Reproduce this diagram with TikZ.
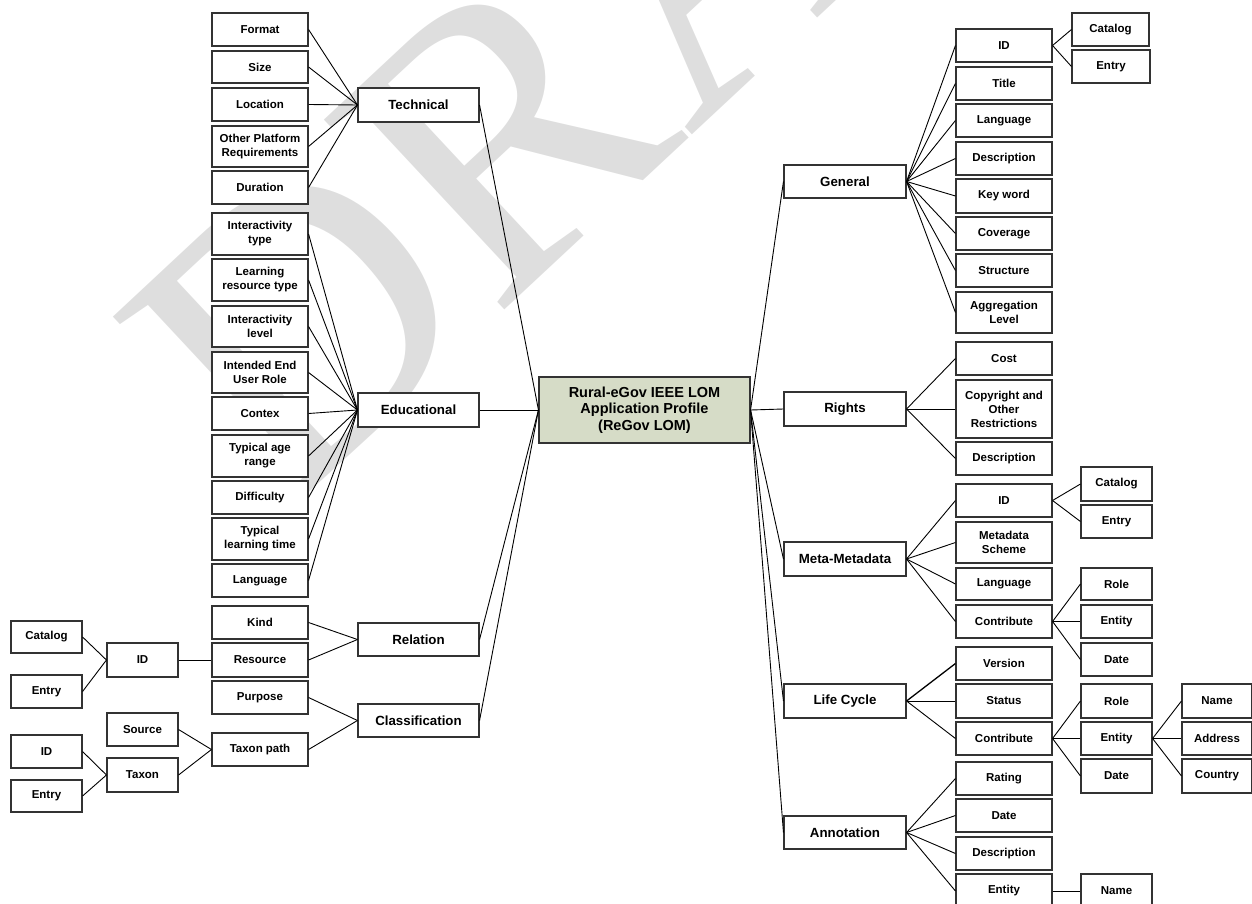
\documentclass[tikz,border=0pt]{standalone}
\usepackage{fontspec}
\setmainfont{Liberation Sans}
\newfontfamily\wmfont{Liberation Serif}
\definecolor{rootfill}{RGB}{214,220,199}
\definecolor{wmgray}{RGB}{222,222,222}
\tikzset{
  box/.style={draw=black!80, line width=1.1pt, fill=white, inner sep=0pt, align=center,
              font=\bfseries\fontsize{11.5}{14}\selectfont},
  pbox/.style={box, font=\bfseries\fontsize{13.3}{16}\selectfont},
  rootbox/.style={box, fill=rootfill, font=\bfseries\fontsize{14.5}{16.5}\selectfont},
  conn/.style={draw=black, line width=0.9pt},
}
\newcommand\bx[7][box]{\node[#1, minimum width={#5pt-#3pt}, minimum height={#6pt-#4pt}] (#2) at ({(#3+#5)/2},{-(#4+#6)/2}) {#7};}
\begin{document}
\begin{tikzpicture}[x=1pt,y=1pt]
\useasboundingbox (0,0) rectangle (1252,-904);
\clip (0,0) rectangle (1252,-904);
% watermark
\node[rotate=43, anchor=base west, inner sep=0pt, text=wmgray,
      font=\wmfont\fontsize{400}{400}\selectfont] (wm) at (283,-517) {DRAFT};

% ---------- root ----------
\bx[rootbox]{root}{539}{377}{750}{443}{Rural-eGov IEEE LOM\\Application Profile\\(ReGov LOM)}

% ---------- Technical ----------
\bx[pbox]{tech}{358}{88}{479}{122}{Technical}
\bx{fmt}{212}{13}{308}{46}{Format}
\bx{tsize}{212}{51}{308}{83}{Size}
\bx{loc}{212}{88}{308}{121}{Location}
\bx{opr}{212}{126}{308}{167}{Other Platform\\Requirements}
\bx{dur}{212}{171}{308}{204}{Duration}

% ---------- Educational ----------
\bx[pbox]{edu}{358}{393}{479}{427}{Educational}
\bx{it}{212}{213}{308}{255}{Interactivity\\type}
\bx{lrt}{212}{259}{308}{301}{Learning\\resource type}
\bx{il}{212}{306}{308}{347}{Interactivity\\level}
\bx{ieur}{212}{352}{308}{393}{Intended End\\User Role}
\bx{ctx}{212}{397}{308}{430}{Contex}
\bx{tar}{212}{435}{308}{477}{Typical age\\range}
\bx{dif}{212}{481}{308}{514}{Difficulty}
\bx{tlt}{212}{518}{308}{560}{Typical\\learning time}
\bx{elang}{212}{564}{308}{597}{Language}

% ---------- Relation ----------
\bx[pbox]{rel}{358}{623}{479}{656}{Relation}
\bx{kind}{212}{606}{308}{639}{Kind}
\bx{res}{212}{643}{308}{677}{Resource}
\bx{rid}{107}{643}{178}{677}{ID}
\bx{rcat}{11}{621}{82}{653}{Catalog}
\bx{rent}{11}{675}{82}{708}{Entry}

% ---------- Classification ----------
\bx[pbox]{cls}{358}{704}{479}{737}{Classification}
\bx{purp}{212}{681}{308}{714}{Purpose}
\bx{tpath}{212}{733}{308}{766}{Taxon path}
\bx{src}{107}{713}{178}{746}{Source}
\bx{taxon}{107}{758}{178}{792}{Taxon}
\bx{tid}{11}{735}{82}{768}{ID}
\bx{tent}{11}{780}{82}{812}{Entry}

% ---------- General ----------
\bx[pbox]{gen}{784}{165}{906}{198}{General}
\bx{gid}{956}{29}{1052}{62}{ID}
\bx{gtitle}{956}{67}{1052}{100}{Title}
\bx{glang}{956}{104}{1052}{137}{Language}
\bx{gdesc}{956}{142}{1052}{175}{Description}
\bx{gkw}{956}{179}{1052}{213}{Key word}
\bx{gcov}{956}{217}{1052}{250}{Coverage}
\bx{gstr}{956}{254}{1052}{287}{Structure}
\bx{gagg}{956}{292}{1052}{333}{Aggregation\\Level}
\bx{gcat}{1072}{13}{1149}{46}{Catalog}
\bx{gent}{1072}{50}{1150}{83}{Entry}

% ---------- Rights ----------
\bx[pbox]{rights}{784}{392}{906}{426}{Rights}
\bx{cost}{956}{342}{1052}{375}{Cost}
\bx{copy}{956}{380}{1052}{438}{Copyright and\\Other\\Restrictions}
\bx{rdesc}{956}{442}{1052}{475}{Description}

% ---------- Meta-Metadata ----------
\bx[pbox]{meta}{784}{542}{906}{576}{Meta-Metadata}
\bx{mid}{956}{484}{1052}{517}{ID}
\bx{mcat}{1081}{467}{1152}{501}{Catalog}
\bx{ment}{1081}{505}{1152}{538}{Entry}
\bx{msch}{956}{522}{1052}{563}{Metadata\\Scheme}
\bx{mlang}{956}{568}{1052}{600}{Language}
\bx{mcon}{956}{605}{1052}{638}{Contribute}
\bx{mrole}{1081}{568}{1152}{600}{Role}
\bx{mentity}{1081}{605}{1152}{638}{Entity}
\bx{mdate}{1081}{643}{1152}{676}{Date}

% ---------- Life Cycle ----------
\bx[pbox]{lc}{784}{684}{906}{718}{Life Cycle}
\bx{ver}{956}{647}{1052}{680}{Version}
\bx{stat}{956}{684}{1052}{718}{Status}
\bx{lcon}{956}{722}{1052}{755}{Contribute}
\bx{lrole}{1081}{684}{1152}{718}{Role}
\bx{lent}{1081}{722}{1152}{755}{Entity}
\bx{ldate}{1081}{759}{1152}{793}{Date}
\bx{lname}{1182}{684}{1252}{718}{Name}
\bx{laddr}{1182}{722}{1252}{755}{Address}
\bx{lctry}{1182}{759}{1252}{793}{Country}

% ---------- Annotation ----------
\bx[pbox]{ann}{784}{816}{906}{849}{Annotation}
\bx{arat}{956}{762}{1052}{795}{Rating}
\bx{adate}{956}{799}{1052}{832}{Date}
\bx{adesc}{956}{837}{1052}{870}{Description}
\bx{aent}{956}{874}{1052}{908}{Entity}
\bx{aname}{1081}{874}{1152}{908}{Name}

% ---------- connectors ----------
\foreach \c in {fmt,tsize,loc,opr,dur} \draw[conn] (\c.east) -- (tech.west);
\foreach \c in {it,lrt,il,ieur,ctx,tar,dif,tlt,elang} \draw[conn] (\c.east) -- (edu.west);
\foreach \c in {kind,res} \draw[conn] (\c.east) -- (rel.west);
\draw[conn] (rid.east) -- (res.west);
\foreach \c in {rcat,rent} \draw[conn] (\c.east) -- (rid.west);
\foreach \c in {purp,tpath} \draw[conn] (\c.east) -- (cls.west);
\foreach \c in {src,taxon} \draw[conn] (\c.east) -- (tpath.west);
\foreach \c in {tid,tent} \draw[conn] (\c.east) -- (taxon.west);
\foreach \c in {tech,edu,rel,cls} \draw[conn] (\c.east) -- (root.west);

\foreach \c in {gen,rights,meta,lc,ann} \draw[conn] (root.east) -- (\c.west);
\foreach \c in {gid,gtitle,glang,gdesc,gkw,gcov,gstr,gagg} \draw[conn] (gen.east) -- (\c.west);
\foreach \c in {gcat,gent} \draw[conn] (gid.east) -- (\c.west);
\foreach \c in {cost,copy,rdesc} \draw[conn] (rights.east) -- (\c.west);
\foreach \c in {mid,msch,mlang,mcon} \draw[conn] (meta.east) -- (\c.west);
\foreach \c in {mcat,ment} \draw[conn] (mid.east) -- (\c.west);
\foreach \c in {mrole,mentity,mdate} \draw[conn] (mcon.east) -- (\c.west);
\draw[conn, line width=1.3pt] (lc.east) -- (ver.west);
\foreach \c in {stat,lcon} \draw[conn] (lc.east) -- (\c.west);
\foreach \c in {lrole,lent,ldate} \draw[conn] (lcon.east) -- (\c.west);
\foreach \c in {lname,laddr,lctry} \draw[conn] (lent.east) -- (\c.west);
\foreach \c in {arat,adate,adesc,aent} \draw[conn] (ann.east) -- (\c.west);
\draw[conn] (aent.east) -- (aname.west);
\end{tikzpicture}
\end{document}
